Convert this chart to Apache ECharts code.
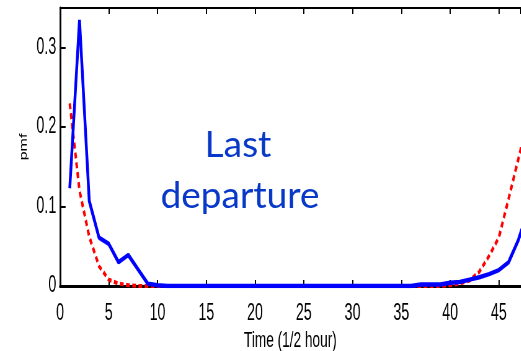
<!DOCTYPE html>
<html><head><meta charset="utf-8">
<script src="https://cdn.jsdelivr.net/npm/echarts@6/dist/echarts.min.js"></script>
<style>
html,body{margin:0;padding:0;background:#fff;overflow:hidden}
#wrap{width:521px;height:351px;overflow:hidden;position:relative}
#c{width:840px;height:351px;transform:scaleX(0.62);transform-origin:0 0;position:absolute;left:0;top:0}
</style>
</head><body><div id="wrap"><div id="c"></div></div>
<script>
var SX = 0.62; // reference image is horizontally compressed
var times = [];
for (var t = 1; t <= 48; t++) times.push(t);
var blueVals = [0.123,0.335,0.107,0.061,0.053,0.030,0.039,0.021,0.003,0.001,
  0,0,0,0,0,0,0,0,0,0,
  0,0,0,0,0,0,0,0,0,0,
  0,0,0,0,0,0,0.002,0.002,0.002,0.004,
  0.005,0.008,0.011,0.015,0.020,0.030,0.058,0.095];
var redVals = [0.23,0.12,0.062,0.025,0.008,0.003,0.001,0,0,0,
  0,0,0,0,0,0,0,0,0,0,
  0,0,0,0,0,0,0,0,0,0,
  0,0,0,0,0,0,0,0,0,0.001,
  0.003,0.007,0.018,0.038,0.061,0.11,0.16,0.21];
var xTicks = [0,5,10,15,20,25,30,35,40,45];
var yTicks = [0,0.1,0.2,0.3];
var annotation = ['Last', 'departure'];

function pairs(v){ return times.map(function(t,i){ return [t, v[i]]; }); }
var FONT = '"Liberation Sans", Arial, sans-serif';
var tickFont = {fontFamily:FONT, fontSize:23, color:'#000'};
var chart = echarts.init(document.getElementById('c'));
chart.setOption({
  animation:false,
  grid:{left:60/SX, top:8, right:0, bottom:65, containLabel:false, outerBoundsMode:'none'},
  xAxis:[{
    type:'value', min:0, max:47.25, interval:5, position:'bottom',
    name:'Time (1/2 hour)', nameLocation:'middle', nameGap:43,
    nameTextStyle:{fontFamily:FONT, fontSize:22, color:'#000'},
    axisLine:{onZero:false, lineStyle:{color:'#000', width:3}},
    axisTick:{inside:true, length:6, lineStyle:{color:'#000', width:2}},
    axisLabel:Object.assign({margin:16, showMaxLabel:false, formatter:function(v){return xTicks.indexOf(v)>=0?String(v):'';}}, tickFont),
    splitLine:{show:false}
  },{
    type:'value', min:0, max:47.25, interval:5, position:'top',
    axisLine:{show:true, onZero:false, lineStyle:{color:'#000', width:2}},
    axisTick:{inside:true, length:6, lineStyle:{color:'#000', width:2}},
    axisLabel:{show:false}, splitLine:{show:false}
  }],
  yAxis:{
    type:'value', min:0, max:0.35, interval:0.1,
    name:'pmf', nameLocation:'middle', nameGap:50, nameRotate:90,
    nameTextStyle:{fontFamily:FONT, fontSize:16, color:'#000'},
    axisLine:{show:true, lineStyle:{color:'#000', width:3}},
    axisTick:{inside:true, length:9, lineStyle:{color:'#000', width:2}},
    axisLabel:Object.assign({margin:6, showMaxLabel:false, formatter:function(v){
      for (var i=0;i<yTicks.length;i++) if (Math.abs(v-yTicks[i])<1e-9) return String(yTicks[i]);
      return '';}}, tickFont),
    splitLine:{show:false}
  },
  series:[{
    type:'line', data:pairs(redVals), symbol:'none', z:2,
    lineStyle:{color:'#ff0000', width:4, type:[6,4]}
  },{
    type:'line', data:pairs(blueVals), symbol:'none', z:3,
    lineStyle:{color:'#0000ff', width:4.5}
  }],
  graphic:[{
    type:'text', x:238/SX, y:145, scaleX:1/SX, scaleY:1,
    style:{text:annotation[0], x:0, y:0, fill:'#0838c8', font:'37px Lato, "Noto Sans", sans-serif', align:'center', verticalAlign:'middle'}
  },{
    type:'text', x:240/SX, y:196, scaleX:1/SX, scaleY:1,
    style:{text:annotation[1], x:0, y:0, fill:'#0838c8', font:'37px Lato, "Noto Sans", sans-serif', align:'center', verticalAlign:'middle'}
  }]
});
</script></body></html>
